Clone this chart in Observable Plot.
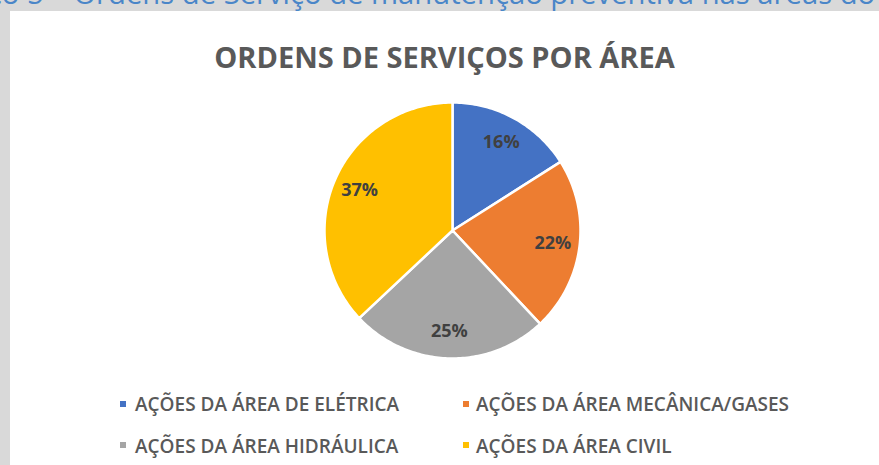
<!DOCTYPE html>
<html>
<head>
<meta charset="utf-8">
<script src="https://cdn.jsdelivr.net/npm/d3@7"></script>
<script src="https://cdn.jsdelivr.net/npm/@observablehq/plot@0.6"></script>
<style>
  html, body { margin: 0; padding: 0; }
  body { width: 879px; height: 465px; background: #d9d9d9; position: relative; overflow: hidden; font-family: "Open Sans", sans-serif; }
  #caption { position: absolute; left: 0; top: 0; }
  #panel { position: absolute; left: 10px; top: 11px; width: 869px; height: 454px; background: #ffffff; }
  #title { position: absolute; left: 10px; width: 869px; top: 42px; text-align: center; font-size: 29px; line-height: 29px; font-weight: 700; color: #595959; white-space: nowrap; }
  #chart { position: absolute; left: 322px; top: 100px; }
  .leg { position: absolute; font-size: 19px; line-height: 18px; font-weight: 600; color: #595959; white-space: nowrap; }
  .sw { position: absolute; width: 6px; height: 6px; }
</style>
</head>
<body>
<svg id="caption" width="879" height="11"><text id="captext" x="0" y="4" font-family="Open Sans" font-size="30" fill="#4a86c8"></text></svg>
<div id="panel"></div>
<div id="title"></div>
<div id="chart"></div>
<div id="legend"></div>
<script>
// ---- data ----
const captionText = "Gráfico 5 – Ordens de Serviço de manutenção preventiva nas áreas do Instituto";
const title = "ORDENS DE SERVIÇOS POR ÁREA";
const categories = ["AÇÕES DA ÁREA DE ELÉTRICA", "AÇÕES DA ÁREA MECÂNICA/GASES", "AÇÕES DA ÁREA HIDRÁULICA", "AÇÕES DA ÁREA CIVIL"];
const shares = [16, 22, 25, 37];
const colors = ["#4472C4", "#ED7D31", "#A5A5A5", "#FFC000"];

// ---- caption (cropped at top of screenshot) ----
const ct = document.getElementById("captext");
ct.textContent = captionText;
{
  const i1 = captionText.indexOf("ç");            // ç in Serviço
  const i2 = captionText.indexOf("ç", i1 + 1);    // ç in manutenção
  const x1 = ct.getSubStringLength(0, i1);
  const x2 = ct.getSubStringLength(0, i2);
  const fs = 30 * 205 / (x2 - x1);
  ct.setAttribute("font-size", fs);
  const nx1 = ct.getSubStringLength(0, i1);
  ct.setAttribute("x", 290 - nx1);
}

// ---- title ----
document.getElementById("title").textContent = title;

// ---- pie ----
const arcs = d3.pie().sort(null).value(d => d)(shares);
const pts = [];
arcs.forEach((a, i) => {
  const name = categories[i];
  pts.push({name, x: 0, y: 0});
  const n = Math.max(2, Math.ceil((a.endAngle - a.startAngle) / (Math.PI / 180)));
  for (let k = 0; k <= n; k++) {
    const t = a.startAngle + (a.endAngle - a.startAngle) * k / n;
    pts.push({name, x: Math.sin(t), y: Math.cos(t)});
  }
});
const labelR = 0.79;
const labels = arcs.map((a, i) => {
  const m = (a.startAngle + a.endAngle) / 2;
  return {x: labelR * Math.sin(m), y: labelR * Math.cos(m), text: shares[i] + "%"};
});

const plot = Plot.plot({
  width: 260,
  height: 260,
  margin: 2,
  x: {domain: [-1, 1], axis: null},
  y: {domain: [-1, 1], axis: null},
  color: {domain: categories, range: colors},
  style: {background: "transparent", overflow: "visible"},
  marks: [
    Plot.line(pts, {x: "x", y: "y", z: "name", fill: "name", stroke: "#ffffff", strokeWidth: 2.5, strokeLinejoin: "round", curve: "linear-closed"}),
    Plot.text(labels, {x: "x", y: "y", text: "text", fontSize: 18, fontWeight: "bold", fill: "#404040", fontFamily: "Open Sans"})
  ]
});
document.getElementById("chart").appendChild(plot);

// ---- legend ----
const legPos = [[120, 401, 135, 395], [463, 401, 476, 395], [120, 442, 135, 437], [463, 442, 476, 437]];
const leg = document.getElementById("legend");
categories.forEach((c, i) => {
  const [sx, sy, tx, ty] = legPos[i];
  const sw = document.createElement("div");
  sw.className = "sw";
  sw.style.left = sx + "px"; sw.style.top = sy + "px"; sw.style.background = colors[i];
  leg.appendChild(sw);
  const t = document.createElement("div");
  t.className = "leg";
  t.style.left = tx + "px"; t.style.top = ty + "px";
  t.textContent = c;
  leg.appendChild(t);
});
</script>
</body>
</html>
